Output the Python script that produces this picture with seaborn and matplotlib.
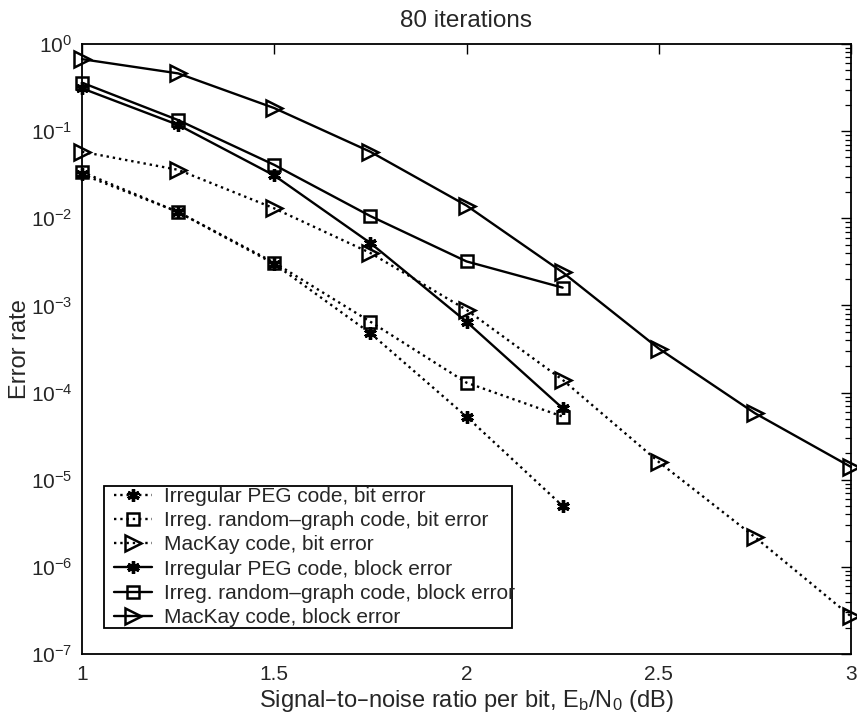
import numpy as np
import pandas as pd
import matplotlib
matplotlib.use("Agg")
import matplotlib.pyplot as plt
from matplotlib.patches import Rectangle
import seaborn as sns

snr = [1.0, 1.25, 1.5, 1.75, 2.0, 2.25, 2.5, 2.75, 3.0]

peg_bit = [0.032, 0.0118, 0.0030, 4.8e-4, 5.3e-5, 5.0e-6]
rand_bit = [0.034, 0.0118, 0.0031, 6.5e-4, 1.3e-4, 5.3e-5]
mackay_bit = [0.058, 0.036, 0.013, 0.0040, 8.9e-4, 1.4e-4, 1.6e-5, 2.2e-6, 2.7e-7]
peg_block = [0.31, 0.118, 0.031, 0.0052, 6.5e-4, 6.6e-5]
rand_block = [0.36, 0.134, 0.041, 0.0106, 0.0032, 0.0016]
mackay_block = [0.67, 0.46, 0.184, 0.058, 0.014, 0.0024, 3.2e-4, 5.8e-5, 1.4e-5]

labels = [
    "Irregular PEG code, bit error",
    "Irreg. random\u2013graph code, bit error",
    "MacKay code, bit error",
    "Irregular PEG code, block error",
    "Irreg. random\u2013graph code, block error",
    "MacKay code, block error",
]
series = [peg_bit, rand_bit, mackay_bit, peg_block, rand_block, mackay_block]

sns.set_style("white")
plt.rcParams['font.family'] = ['Liberation Sans', 'DejaVu Sans']
plt.rcParams['mathtext.default'] = 'regular'

W, H = 857, 723
L, R, T, B = 82, 851, 44, 654
fig = plt.figure(figsize=(W/100, H/100), dpi=100)
ax = fig.add_axes([L/W, 1 - B/H, (R-L)/W, (B-T)/H])

asterisk = (6, 2, 0)
styles = [
    dict(ls=':', marker=asterisk, ms=9, mfc='black', mew=2.4),
    dict(ls=':', marker='s', ms=8, mfc='none', mew=1.8),
    dict(ls=':', marker='>', ms=11, mfc='none', mew=1.8),
    dict(ls='-', marker=asterisk, ms=9, mfc='black', mew=2.4),
    dict(ls='-', marker='s', ms=8, mfc='none', mew=1.8),
    dict(ls='-', marker='>', ms=11, mfc='none', mew=1.8),
]

for lab, vals, st in zip(labels, series, styles):
    df = pd.DataFrame({"x": snr[:len(vals)], "y": vals})
    sns.lineplot(data=df, x="x", y="y", ax=ax, color='black',
                 linestyle=st['ls'], marker=st['marker'], markersize=st['ms'],
                 markerfacecolor=st['mfc'], markeredgecolor='black',
                 markeredgewidth=st['mew'], linewidth=1.7, label=lab, clip_on=False)

ax.set_yscale('log')
ax.set_xlim(1, 3)
ax.set_ylim(1e-7, 1)
ax.set_xticks([1, 1.5, 2, 2.5, 3])
ax.set_xticklabels(['1', '1.5', '2', '2.5', '3'])
ax.set_yticks([10.0**k for k in range(-7, 1)])
ax.yaxis.set_minor_locator(matplotlib.ticker.LogLocator(base=10, subs=np.arange(2, 10), numticks=20))
ax.yaxis.set_minor_formatter(matplotlib.ticker.NullFormatter())
ax.tick_params(which='both', direction='in', top=True, right=True, labelsize=15, color='black')
ax.tick_params(which='major', length=7, width=1)
ax.tick_params(which='minor', length=4, width=0.9)
ax.tick_params(axis='x', pad=8)
ax.tick_params(axis='y', pad=7)
for sp in ax.spines.values():
    sp.set_color('black')
    sp.set_linewidth(1.3)

ax.set_title('80 iterations', fontsize=17.5, pad=12)
ax.set_xlabel('Signal\u2013to\u2013noise ratio per bit, E$_b$/N$_0$ (dB)', fontsize=17, labelpad=3)
ax.set_ylabel('Error rate', fontsize=17)
ax.yaxis.set_label_coords((31 - L)/(R - L), 0.5)

# legend frame (the original's text runs past the right side of its box)
bx0, bx1, by0, by1 = 104, 512, 486, 628
ax.add_patch(Rectangle(((bx0-L)/(R-L), (B-by1)/(B-T)), (bx1-bx0)/(R-L), (by1-by0)/(B-T),
                       transform=ax.transAxes, facecolor='white', edgecolor='black',
                       linewidth=1.3, zorder=4.5, clip_on=False))

leg = ax.legend(loc='upper left', bbox_to_anchor=((114-L)/(R-L), (B-487)/(B-T)), fontsize=15,
                frameon=False, borderpad=0.0, labelspacing=0.25, handlelength=1.8,
                handletextpad=0.6, borderaxespad=0)
leg.set_zorder(5)

fig.savefig('out.png', dpi=100)
